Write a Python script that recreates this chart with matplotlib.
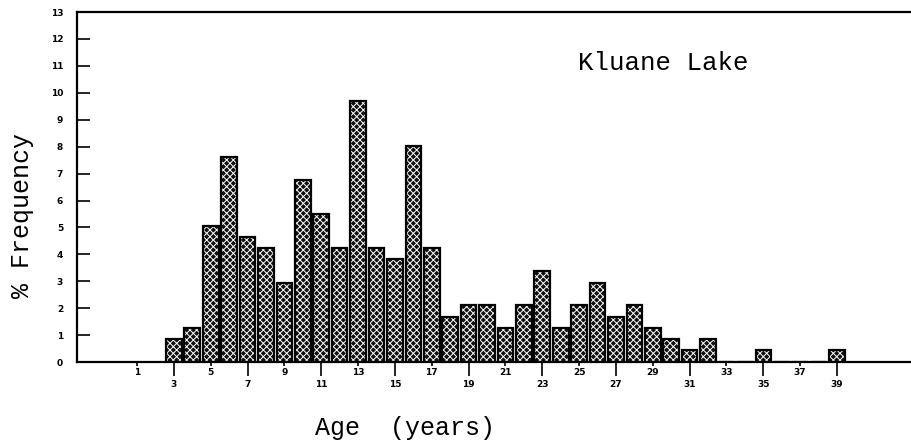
import matplotlib
matplotlib.use('Agg')
import matplotlib.pyplot as plt

# Возрасты (годы) и частоты (%)
ages = list(range(3, 40))
freq = [0.85, 1.27, 5.05, 7.6, 4.63, 4.23, 2.95, 6.77, 5.5, 4.23,
        9.68, 4.23, 3.82, 8.04, 4.23, 1.69, 2.11, 2.11, 1.27, 2.11,
        3.38, 1.27, 2.11, 2.95, 1.69, 2.11, 1.27, 0.85, 0.45, 0.85,
        0, 0, 0.45, 0, 0, 0, 0.45]

upper_ticks = list(range(1, 39, 4))   # 1, 5, 9 ... подписи в верхнем ряду
lower_ticks = list(range(3, 40, 4))   # 3, 7, 11 ... нижний ряд, длинные риски
y_ticks = list(range(0, 14))

plt.rcParams['hatch.linewidth'] = 0.7
fig = plt.figure(figsize=(9.12, 4.46), dpi=100)
ax = fig.add_axes([0.0844, 0.188, 0.9156, 0.785])

ax.bar(ages, freq, width=0.85, color='#111111', edgecolor='white', hatch='xxxxx', linewidth=0)
ax.bar(ages, freq, width=0.85, fill=False, edgecolor='black', linewidth=1.6)

ax.set_xlim(-2.26, 43.07)
ax.set_ylim(0, 13)

ax.spines['right'].set_visible(False)
for s in ['left', 'bottom', 'top']:
    ax.spines[s].set_linewidth(1.6)

tick_font = dict(fontsize=6.5, fontweight='bold', family='DejaVu Sans')
ax.set_yticks(y_ticks, labels=[str(v) for v in y_ticks], **tick_font)
ax.tick_params(axis='y', direction='in', length=9, width=1.2, pad=10)

ax.set_xticks(lower_ticks, labels=[str(v) for v in lower_ticks], **tick_font)
ax.set_xticks(upper_ticks, labels=[str(v) for v in upper_ticks], minor=True, **tick_font)
ax.tick_params(axis='x', which='major', direction='out', length=10, width=1.2, pad=3)
ax.tick_params(axis='x', which='minor', direction='out', length=3, width=1.2, pad=1)

fig.text(0.024, 0.516, '% Frequency', family='Liberation Mono', fontsize=18,
         rotation=90, ha='center', va='center')
fig.text(0.444, 0.04, 'Age  (years)', family='Liberation Mono', fontsize=18,
         ha='center', va='center')
ax.text(0.702, 0.854, 'Kluane Lake', transform=ax.transAxes, family='Liberation Mono',
        fontsize=18.5, ha='center', va='center')

plt.savefig('out.png', dpi=100)
